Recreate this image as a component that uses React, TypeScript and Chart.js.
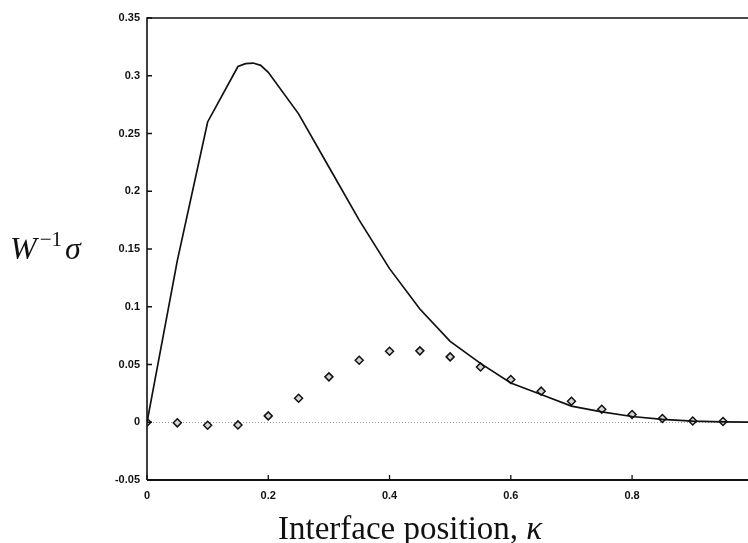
import React, { useEffect, useRef } from "react";
import { Chart, registerables } from "chart.js";

Chart.register(...registerables);

// Solid curve: W^{-1} sigma vs interface position
const curveX = [0, 0.05, 0.1, 0.15, 0.1625, 0.175, 0.1875, 0.2, 0.25, 0.3, 0.35, 0.4, 0.45, 0.5, 0.55, 0.6, 0.65, 0.7, 0.75, 0.8, 0.85, 0.9, 0.95, 1.0];
const curveY = [0, 0.14, 0.26, 0.308, 0.3105, 0.311, 0.309, 0.303, 0.267, 0.221, 0.175, 0.133, 0.098, 0.07, 0.051, 0.034, 0.024, 0.014, 0.009, 0.005, 0.0025, 0.001, 0.0004, 0.0001];

// Diamond markers
const diamondX = [0, 0.05, 0.1, 0.15, 0.2, 0.25, 0.3, 0.35, 0.4, 0.45, 0.5, 0.55, 0.6, 0.65, 0.7, 0.75, 0.8, 0.85, 0.9, 0.95];
const diamondY = [0, -0.0005, -0.0026, -0.0023, 0.0055, 0.0208, 0.0393, 0.0537, 0.0615, 0.0618, 0.0566, 0.0479, 0.037, 0.0269, 0.0182, 0.0113, 0.0067, 0.0032, 0.0011, 0.0006];

const xMin = 0;
const xMax = 0.992;
const xStep = 0.2;
const yMin = -0.05;
const yMax = 0.35;
const yStep = 0.05;

const xTitle = "Interface position, ";
const xTitleSymbol = "\u03BA";
const yTitleMain = "W";
const yTitleSup = "\u22121";
const yTitleEnd = "\u03C3";

const fmt = (v: number) => String(parseFloat(Number(v).toFixed(3)));

const framePlugin = {
  id: "frame",
  beforeDatasetsDraw(chart: any) {
    const { ctx, chartArea, scales } = chart;
    const ys = scales.y;
    const y0 = ys.getPixelForValue(0);
    ctx.save();
    ctx.strokeStyle = "#9a9a9a";
    ctx.lineWidth = 1;
    ctx.setLineDash([1, 2]);
    ctx.beginPath();
    ctx.moveTo(chartArea.left, Math.round(y0) + 0.5);
    ctx.lineTo(chartArea.right, Math.round(y0) + 0.5);
    ctx.stroke();
    ctx.restore();
  },
  afterDraw(chart: any) {
    const { ctx, chartArea, scales } = chart;
    const { left, right, top, bottom } = chartArea;
    const xs = scales.x;
    const ys = scales.y;
    ctx.save();
    ctx.strokeStyle = "#111";
    ctx.setLineDash([]);
    ctx.lineWidth = 1.6;
    ctx.beginPath();
    ctx.moveTo(right, top);
    ctx.lineTo(left, top);
    ctx.lineTo(left, bottom);
    ctx.stroke();
    ctx.lineWidth = 2;
    ctx.beginPath();
    ctx.moveTo(left, bottom);
    ctx.lineTo(right, bottom);
    ctx.stroke();
    ctx.lineWidth = 1.3;
    ctx.beginPath();
    for (const t of xs.ticks) {
      const px = xs.getPixelForValue(t.value);
      ctx.moveTo(px, bottom);
      ctx.lineTo(px, bottom - 5);
    }
    for (const t of ys.ticks) {
      const py = ys.getPixelForValue(t.value);
      ctx.moveTo(left, py);
      ctx.lineTo(left + 5, py);
    }
    ctx.stroke();

    ctx.fillStyle = "#111";
    ctx.textBaseline = "alphabetic";
    ctx.textAlign = "left";
    ctx.font = '33px "Liberation Serif"';
    const tx = left + 131;
    const ty = 539;
    ctx.fillText(xTitle, tx, ty);
    const w1 = ctx.measureText(xTitle).width;
    ctx.font = 'italic 33px "Liberation Serif"';
    ctx.fillText(xTitleSymbol, tx + w1, ty);

    const yx = 10;
    const yy = 259;
    ctx.font = 'italic 32px "Liberation Serif"';
    ctx.fillText(yTitleMain, yx, yy);
    const wW = ctx.measureText(yTitleMain).width;
    ctx.font = '21px "Liberation Serif"';
    const sx = yx + wW + 3;
    ctx.fillText(yTitleSup, sx, yy - 13);
    const wS = ctx.measureText(yTitleSup).width;
    ctx.font = 'italic 32px "Liberation Serif"';
    ctx.fillText(yTitleEnd, sx + wS + 3, yy);
    ctx.restore();
  },
};

export default function App() {
  const ref = useRef<HTMLCanvasElement | null>(null);
  useEffect(() => {
    if (!ref.current) return;
    const chart = new Chart(ref.current, {
      type: "scatter",
      data: {
        datasets: [
          {
            type: "line",
            data: curveX.map((x, i) => ({ x, y: curveY[i] })),
            borderColor: "#111",
            borderWidth: 1.7,
            pointRadius: 0,
            tension: 0,
            fill: false,
            order: 0,
          } as any,
          {
            data: diamondX.map((x, i) => ({ x, y: diamondY[i] })),
            showLine: false,
            pointStyle: "rectRot",
            pointRadius: 4,
            backgroundColor: "#d4d4d4",
            borderColor: "#111",
            borderWidth: 1.5,
            order: 1,
          },
        ],
      },
      options: {
        animation: false,
        responsive: false,
        maintainAspectRatio: false,
        devicePixelRatio: 1,
        layout: { padding: { top: 18, left: 0, right: 0, bottom: 0 } },
        plugins: {
          legend: { display: false },
          tooltip: { enabled: false },
          title: { display: false },
        },
        scales: {
          x: {
            type: "linear",
            min: xMin,
            max: xMax,
            grid: { display: false, drawTicks: false },
            border: { display: false },
            ticks: {
              stepSize: xStep,
              includeBounds: false,
              padding: 9,
              color: "#111",
              font: { family: '"Liberation Sans", Arial, sans-serif', size: 11, weight: "bold" },
              callback: (v: any) => fmt(v),
              maxRotation: 0,
            },
            afterFit: (s: any) => {
              s.height = 63;
              s.paddingLeft = 0;
              s.paddingRight = 0;
            },
          },
          y: {
            type: "linear",
            min: yMin,
            max: yMax,
            grid: { display: false, drawTicks: false },
            border: { display: false },
            ticks: {
              stepSize: yStep,
              includeBounds: false,
              padding: 7,
              color: "#111",
              font: { family: '"Liberation Sans", Arial, sans-serif', size: 11, weight: "bold" },
              callback: (v: any) => fmt(v),
            },
            afterFit: (s: any) => {
              s.width = 147;
              s.paddingTop = 0;
              s.paddingBottom = 0;
            },
          },
        },
      },
      plugins: [framePlugin],
    });
    return () => chart.destroy();
  }, []);
  return (
    <div style={{ position: "fixed", left: 0, top: 0, width: 748, height: 543, overflow: "hidden", background: "#fff" }}>
      <canvas ref={ref} width={754} height={543} style={{ display: "block", width: 754, height: 543 }} />
    </div>
  );
}
